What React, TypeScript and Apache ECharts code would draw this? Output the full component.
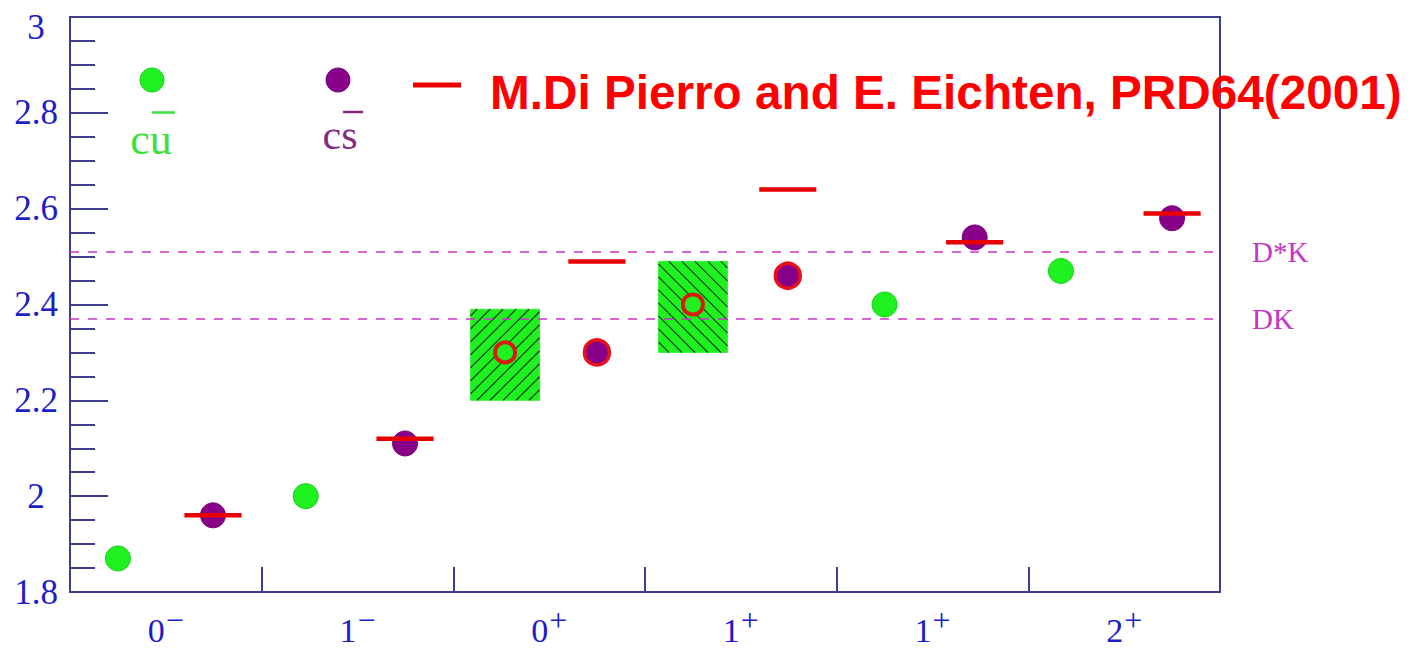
import React, { useEffect, useRef } from "react";
import * as echarts from "echarts";

// J^P channel of each column: base digit plus parity sign
const channelBase = ["0", "1", "0", "1", "1", "2"];
const channelSign = ["−", "−", "+", "+", "+", "+"];

// c-ubar states: column position and mass (GeV)
const cuPos = [0.25, 1.23, 2.27, 3.25, 4.25, 5.17];
const cuMass = [1.87, 2.0, 2.3, 2.4, 2.4, 2.47];
const cuOpen = [false, false, true, true, false, false];

// c-sbar states
const csPos = [0.746, 1.748, 2.749, 3.745, 4.72, 5.75];
const csMass = [1.96, 2.11, 2.3, 2.46, 2.54, 2.58];
const csRinged = [false, false, true, true, false, false];

// Di Pierro & Eichten model predictions, drawn at the c-sbar positions
const modelMass = [1.96, 2.12, 2.49, 2.64, 2.53, 2.59];

// c-ubar mass ranges (hatched bands) for the two broad states
const bandPos = [2.27, 3.25];
const bandLow = [2.2, 2.3];
const bandHigh = [2.39, 2.49];
const bandHatch = ["/", "\\"];

// Open-charm thresholds
const thresholdNames = ["D*K", "DK"];
const thresholdMass = [2.51, 2.37];

const GREEN = "#1ff01f";
const PURPLE = "#880088";
const RED = "#e80000";
const AXIS = "#3d3d8f";
const LABEL_BLUE = "#1c1cc8";
const MAGENTA = "#c634c8";

export default function App() {
  const ref = useRef<HTMLDivElement>(null);

  useEffect(() => {
    if (!ref.current) return;
    const chart = echarts.init(ref.current, undefined, { renderer: "svg" });

    const cuData = cuPos.map((x, i) => ({
      value: [x, cuMass[i]],
      symbolSize: cuOpen[i] ? 20 : 25,
      itemStyle: cuOpen[i]
        ? { color: GREEN, borderColor: "#d81a10", borderWidth: 4, opacity: 1 }
        : { color: GREEN, borderColor: "#14d014", borderWidth: 1, opacity: 1 },
    }));

    const csData = csPos.map((x, i) => ({
      value: [x, csMass[i]],
      symbolSize: csRinged[i] ? 25 : 25,
      itemStyle: csRinged[i]
        ? { color: PURPLE, borderColor: "#e8101a", borderWidth: 3.5, opacity: 1 }
        : { color: PURPLE, borderColor: "#7a007a", borderWidth: 1, opacity: 1 },
    }));

    const modelData = csPos.map((x, i) => [x, modelMass[i]]);
    const bandData = bandPos.map((x, i) => [x, bandLow[i], bandHigh[i], i]);

    const option: any = {
      animation: false,
      backgroundColor: "#ffffff",
      grid: {
        left: 70,
        top: 17,
        right: 192,
        bottom: 63,
        show: true,
        borderColor: AXIS,
        borderWidth: 2,
        backgroundColor: "transparent",
      },
      xAxis: [
        {
          type: "category",
          data: channelBase.map((b, i) => b + channelSign[i]),
          boundaryGap: true,
          axisLine: { show: true, lineStyle: { color: AXIS, width: 2 } },
          axisTick: {
            show: true,
            inside: true,
            length: 25,
            alignWithLabel: false,
            lineStyle: { color: AXIS, width: 2 },
          },
          splitLine: { show: false },
          axisLabel: {
            margin: 20,
            formatter: (_v: string, idx: number) =>
              `{b|${channelBase[idx]}}{s|${channelSign[idx]}}`,
            rich: {
              b: {
                fontFamily: "Liberation Serif",
                fontSize: 34,
                color: LABEL_BLUE,
                lineHeight: 36,
              },
              s: {
                fontFamily: "Liberation Serif",
                fontSize: 32,
                color: LABEL_BLUE,
                lineHeight: 32,
                padding: [0, 0, 20, 1],
              },
            },
          },
        },
        {
          type: "value",
          min: 0,
          max: 6,
          show: false,
        },
      ],
      yAxis: {
        type: "value",
        min: 1.8,
        max: 3.0,
        interval: 0.2,
        axisLine: { show: true, lineStyle: { color: AXIS, width: 2 } },
        axisTick: {
          show: true,
          inside: true,
          length: 38,
          lineStyle: { color: AXIS, width: 2 },
        },
        minorTick: {
          show: true,
          splitNumber: 4,
          length: 25,
          lineStyle: { color: AXIS, width: 2 },
        },
        splitLine: { show: false },
        minorSplitLine: { show: false },
        axisLabel: {
          margin: 34,
          align: "center",
          fontFamily: "Liberation Serif",
          fontSize: 35,
          color: LABEL_BLUE,
          formatter: (v: number) =>
            Math.abs(v - 3) < 1e-9 ? "{top|3}" : String(Math.round(v * 10) / 10),
          rich: {
            top: {
              fontFamily: "Liberation Serif",
              fontSize: 35,
              color: LABEL_BLUE,
              padding: [20, 0, 0, 0],
            },
          },
        },
      },
      series: [
        {
          name: "bands",
          type: "custom",
          xAxisIndex: 1,
          z: 2,
          data: bandData,
          renderItem: (_params: any, api: any) => {
            const x = api.value(0);
            const lo = api.coord([x - 0.18, api.value(1)]);
            const hi = api.coord([x + 0.18, api.value(2)]);
            const x0 = lo[0];
            const x1 = hi[0];
            const y0 = hi[1];
            const y1 = lo[1];
            const dir = bandHatch[api.value(3)];
            const children: any[] = [
              {
                type: "rect",
                shape: { x: x0, y: y0, width: x1 - x0, height: y1 - y0 },
                style: { fill: GREEN, stroke: "#3af03a", lineWidth: 1 },
              },
            ];
            const step = 13;
            if (dir === "/") {
              for (let c = x0 + y0 + step / 2; c < x1 + y1; c += step) {
                const xa = Math.max(x0, c - y1);
                const xb = Math.min(x1, c - y0);
                if (xb - xa < 1) continue;
                children.push({
                  type: "line",
                  shape: { x1: xa, y1: c - xa, x2: xb, y2: c - xb },
                  style: { stroke: "#124a12", lineWidth: 1.3 },
                });
              }
            } else {
              for (let c = y0 - x1 + step / 2; c < y1 - x0; c += step) {
                const xa = Math.max(x0, y0 - c);
                const xb = Math.min(x1, y1 - c);
                if (xb - xa < 1) continue;
                children.push({
                  type: "line",
                  shape: { x1: xa, y1: xa + c, x2: xb, y2: xb + c },
                  style: { stroke: "#124a12", lineWidth: 1.3 },
                });
              }
            }
            return { type: "group", children };
          },
        },
        {
          name: "thresholds",
          type: "line",
          xAxisIndex: 1,
          data: [],
          z: 3,
          markLine: {
            silent: true,
            symbol: "none",
            lineStyle: { color: MAGENTA, type: [9, 9], width: 1.6 },
            label: {
              show: true,
              position: "end",
              distance: 32,
              formatter: "{b}",
              fontFamily: "Liberation Serif",
              fontSize: 29,
              color: MAGENTA,
            },
            data: thresholdNames.map((n, i) => ({
              name: n,
              yAxis: thresholdMass[i],
            })),
          },
        },
        {
          name: "cu",
          type: "scatter",
          xAxisIndex: 1,
          symbol: "circle",
          z: 4,
          itemStyle: { opacity: 1 },
          data: cuData,
        },
        {
          name: "cs",
          type: "scatter",
          xAxisIndex: 1,
          symbol: "circle",
          z: 4,
          itemStyle: { opacity: 1 },
          data: csData,
        },
        {
          name: "model",
          type: "custom",
          xAxisIndex: 1,
          z: 5,
          data: modelData,
          renderItem: (_params: any, api: any) => {
            const a = api.coord([api.value(0) - 0.149, api.value(1)]);
            const b = api.coord([api.value(0) + 0.149, api.value(1)]);
            return {
              type: "line",
              shape: { x1: a[0], y1: a[1], x2: b[0], y2: b[1] },
              style: { stroke: RED, lineWidth: 4.5 },
            };
          },
        },
      ],
      graphic: [
        // c-ubar key
        {
          type: "circle",
          shape: { cx: 152, cy: 80, r: 12 },
          style: { fill: GREEN, stroke: "#14d014", lineWidth: 1 },
          z: 10,
        },
        {
          type: "text",
          style: {
            x: 151,
            y: 139,
            text: "cu",
            font: '44px "Liberation Serif"',
            fill: "#3ee03e",
            textAlign: "center",
            textVerticalAlign: "middle",
          },
          z: 10,
        },
        {
          type: "line",
          shape: { x1: 152, y1: 112.5, x2: 175, y2: 112.5 },
          style: { stroke: "#3ee03e", lineWidth: 2.5 },
          z: 10,
        },
        // c-sbar key
        {
          type: "circle",
          shape: { cx: 338, cy: 80, r: 12 },
          style: { fill: PURPLE, stroke: "#7a007a", lineWidth: 1 },
          z: 10,
        },
        {
          type: "text",
          style: {
            x: 340,
            y: 135,
            text: "cs",
            font: '42px "Liberation Serif"',
            fill: "#842a84",
            textAlign: "center",
            textVerticalAlign: "middle",
          },
          z: 10,
        },
        {
          type: "line",
          shape: { x1: 343, y1: 112, x2: 363, y2: 112 },
          style: { stroke: "#842a84", lineWidth: 2.5 },
          z: 10,
        },
        // model key
        {
          type: "line",
          shape: { x1: 413, y1: 85, x2: 461, y2: 85 },
          style: { stroke: RED, lineWidth: 5 },
          z: 10,
        },
        {
          type: "text",
          style: {
            x: 490,
            y: 92,
            text: "M.Di Pierro and E. Eichten, PRD64(2001)",
            font: 'bold 47.7px "Liberation Sans"',
            fill: "#ff0000",
            textAlign: "left",
            textVerticalAlign: "middle",
          },
          z: 10,
        },
      ],
    };

    chart.setOption(option);
    return () => chart.dispose();
  }, []);

  return (
    <div
      ref={ref}
      style={{
        position: "fixed",
        left: 0,
        top: 0,
        width: 1412,
        height: 656,
        background: "#ffffff",
      }}
    />
  );
}
